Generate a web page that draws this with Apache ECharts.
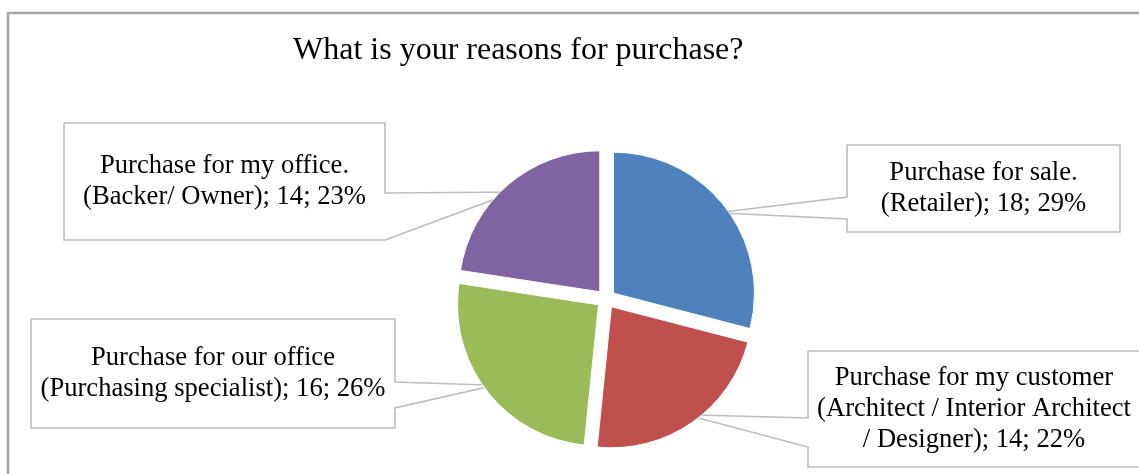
<!DOCTYPE html>
<html><head><meta charset="utf-8">
<script src="https://cdn.jsdelivr.net/npm/echarts@6/dist/echarts.min.js"></script>
<style>html,body{margin:0;padding:0;background:#fff}#c{width:1139px;height:474px}</style>
</head><body><div id="c"></div>
<script>
const chartTitle = 'What is your reasons for purchase?';
const categories = [
  'Purchase for sale.\n(Retailer)',
  'Purchase for my customer\n(Architect / Interior Architect\n/ Designer)',
  'Purchase for our office\n(Purchasing specialist)',
  'Purchase for my office.\n(Backer/ Owner)'
];
const values = [18, 14, 16, 14];
const percentLabels = ['29%', '22%', '26%', '23%'];
const colors = ['#4F81BD', '#C0504D', '#9BBB59', '#8064A2'];

// callout box layout (pixels): box edges, wedge side, wedge attachment y's
const boxes = [
  {l: 847, t: 145, r: 1120, b: 232, side: 'left', a1: 197, a2: 219},
  {l: 808, t: 351, r: 1140, b: 467, side: 'left', a1: 418, a2: 447},
  {l: 31, t: 319, r: 395, b: 428, side: 'right', a1: 382, a2: 408},
  {l: 64, t: 123, r: 385, b: 240, side: 'right', a1: 193, a2: 240}
];

const chart = echarts.init(document.getElementById('c'), null, {renderer: 'canvas'});
const FONT = '"Liberation Serif", "Times New Roman", serif';

function calloutPoints(b, tip) {
  if (b.side === 'left') {
    return [[b.l, b.t], [b.r, b.t], [b.r, b.b], [b.l, b.b], [b.l, b.a2], tip, [b.l, b.a1], [b.l, b.t]];
  }
  return [[b.l, b.t], [b.r, b.t], [b.r, b.a1], tip, [b.r, b.a2], [b.r, b.b], [b.l, b.b], [b.l, b.t]];
}

const pieCommon = {
  type: 'pie',
  center: [606, 299],
  radius: 141,
  startAngle: 90,
  clockwise: true,
  emphasis: {disabled: true}
};

chart.setOption({
  animation: false,
  backgroundColor: '#ffffff',
  title: {
    text: chartTitle,
    left: 288,
    top: 30,
    textStyle: {fontFamily: FONT, fontSize: 32, fontWeight: 'normal', color: '#000'}
  },
  graphic: [{
    type: 'rect',
    shape: {x: 8, y: 13, width: 1200, height: 500},
    style: {fill: null, stroke: '#a6a6a6', lineWidth: 2.5},
    silent: true, z: -1
  }],
  series: [
    Object.assign({}, pieCommon, {
      name: 'slices',
      selectedMode: 'multiple',
      selectedOffset: 9.5,
      itemStyle: {borderColor: '#ffffff', borderWidth: 1},
      select: {itemStyle: {borderColor: '#ffffff', borderWidth: 1}},
      label: {show: false},
      labelLine: {show: false},
      data: categories.map((c, i) => ({
        name: c, value: values[i], selected: true,
        itemStyle: {color: colors[i]}
      }))
    }),
    Object.assign({}, pieCommon, {
      name: 'labels',
      silent: true,
      itemStyle: {color: 'rgba(0,0,0,0)', borderWidth: 0},
      label: {
        show: true,
        position: 'outside',
        fontFamily: FONT,
        fontSize: 26.6,
        lineHeight: 31,
        color: '#000',
        align: 'center',
        formatter: p => p.name + '; ' + p.value + '; ' + percentLabels[p.dataIndex]
      },
      labelLine: {show: true, smooth: false, length: 20, length2: 20,
        lineStyle: {color: '#bdbdbd', width: 1.6}},
      labelLayout: function (params) {
        const b = boxes[params.dataIndex];
        const tip = params.labelLinePoints ? params.labelLinePoints[0] : [(b.l + b.r) / 2, (b.t + b.b) / 2];
        return {
          x: (b.l + b.r) / 2,
          y: (b.t + b.b) / 2,
          align: 'center',
          verticalAlign: 'middle',
          labelLinePoints: calloutPoints(b, tip)
        };
      },
      data: categories.map((c, i) => ({name: c, value: values[i]}))
    })
  ]
});
</script>
</body></html>
